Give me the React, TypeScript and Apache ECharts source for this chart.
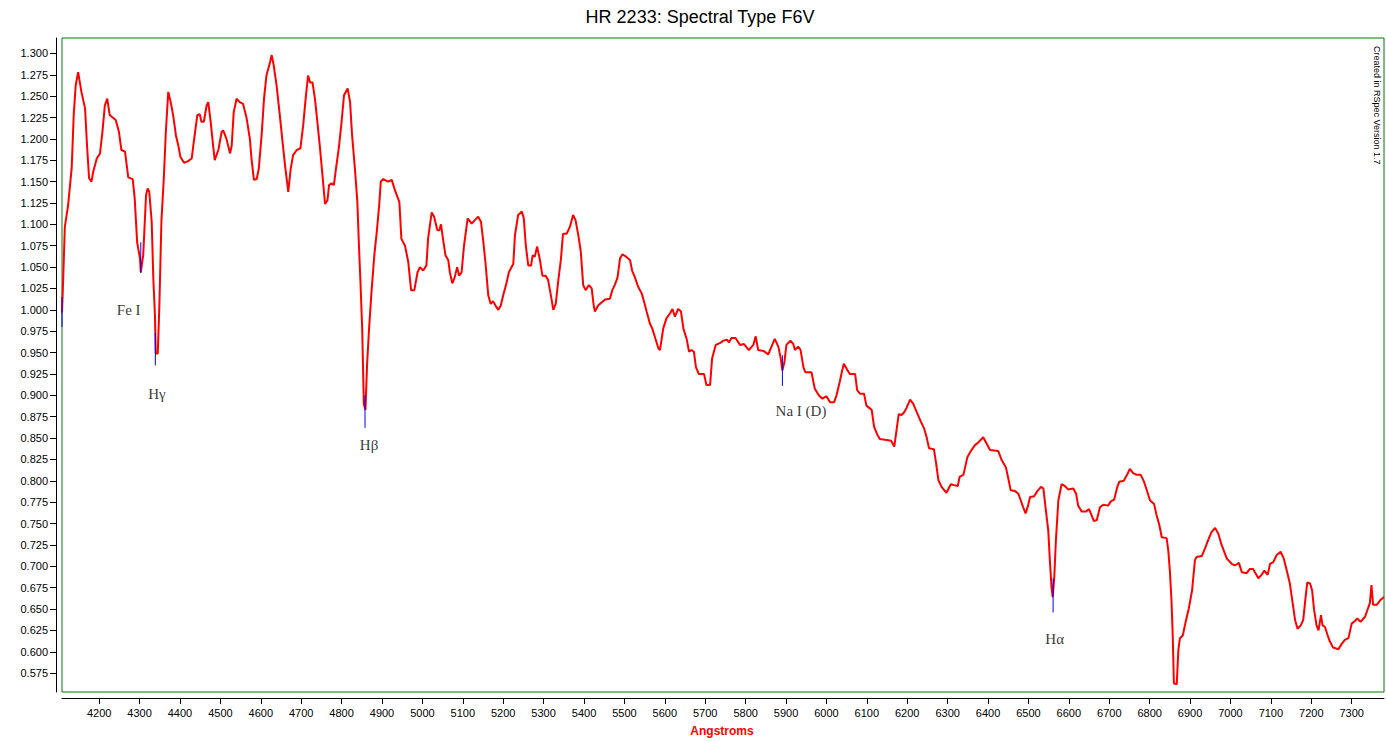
import React, { useEffect, useRef } from "react";
import * as echarts from "echarts";

// Spectrum: [wavelength (Angstrom), relative flux]
const spectrum: [number, number][] = [
  [4108,0.997],[4111,1.037],[4115,1.097],[4123,1.122],[4132,1.166],[4137,1.228],[4142,1.263],[4148,1.278],[4156,1.255],[4165,1.236],
  [4170,1.192],[4175,1.154],[4181,1.150],[4185,1.161],[4194,1.177],[4202,1.183],[4208,1.208],[4214,1.239],[4220,1.247],[4226,1.228],
  [4241,1.222],[4249,1.208],[4255,1.187],[4264,1.185],[4272,1.155],[4283,1.153],[4288,1.130],[4294,1.079],[4301,1.060],[4303,1.044],
  [4309,1.064],[4316,1.134],[4320,1.142],[4324,1.138],[4330,1.103],[4334,1.037],[4338,0.994],[4340,0.949],[4345,0.949],[4349,1.005],
  [4354,1.103],[4360,1.154],[4365,1.208],[4371,1.255],[4377,1.243],[4383,1.228],[4390,1.204],[4396,1.192],[4401,1.179],[4410,1.172],
  [4420,1.174],[4429,1.177],[4434,1.196],[4443,1.228],[4449,1.229],[4453,1.220],[4459,1.220],[4466,1.239],[4470,1.243],[4476,1.220],
  [4482,1.192],[4486,1.175],[4495,1.187],[4503,1.208],[4507,1.210],[4515,1.200],[4524,1.183],[4528,1.192],[4533,1.231],[4540,1.247],
  [4548,1.243],[4556,1.241],[4565,1.224],[4573,1.200],[4577,1.177],[4583,1.152],[4590,1.153],[4595,1.165],[4602,1.204],[4608,1.247],
  [4614,1.274],[4623,1.290],[4627,1.298],[4632,1.286],[4639,1.263],[4647,1.228],[4654,1.196],[4660,1.169],[4668,1.138],[4674,1.165],
  [4680,1.181],[4689,1.187],[4698,1.189],[4705,1.216],[4711,1.247],[4717,1.274],[4722,1.266],[4728,1.266],[4734,1.247],[4740,1.220],
  [4746,1.192],[4752,1.161],[4759,1.124],[4765,1.128],[4769,1.146],[4775,1.148],[4781,1.146],[4786,1.165],[4793,1.189],[4800,1.220],
  [4806,1.251],[4815,1.259],[4821,1.243],[4826,1.204],[4833,1.165],[4839,1.126],[4843,1.075],[4847,1.029],[4851,0.978],[4855,0.890],
  [4859,0.883],[4863,0.935],[4868,0.978],[4874,1.021],[4881,1.064],[4887,1.091],[4893,1.122],[4897,1.150],[4903,1.153],[4915,1.150],
  [4924,1.152],[4932,1.140],[4943,1.126],
  [4948,1.083],[4957,1.075],[4965,1.056],[4972,1.023],[4980,1.023],[4988,1.044],[4994,1.050],[5002,1.046],[5010,1.052],[5014,1.083],
  [5023,1.114],[5029,1.109],[5037,1.093],[5042,1.093],[5046,1.100],[5051,1.083],[5057,1.064],[5064,1.058],[5068,1.044],[5074,1.031],
  [5080,1.038],[5086,1.050],[5091,1.040],[5097,1.044],[5103,1.075],[5112,1.107],[5122,1.101],[5130,1.105],[5138,1.109],[5145,1.103],
  [5150,1.083],[5156,1.056],[5163,1.017],[5169,1.007],[5175,1.010],[5181,1.005],[5188,1.000],[5194,1.005],[5200,1.017],[5208,1.031],
  [5214,1.044],[5225,1.054],[5229,1.087],[5237,1.111],[5246,1.115],[5251,1.107],[5256,1.075],[5262,1.052],[5269,1.052],[5273,1.064],
  [5278,1.062],[5284,1.074],[5291,1.058],[5297,1.040],[5305,1.040],[5311,1.035],[5318,1.017],[5324,1.000],[5330,1.007],[5336,1.033],
  [5343,1.060],[5348,1.089],[5357,1.089],[5365,1.097],[5373,1.111],[5379,1.105],[5386,1.087],[5392,1.068],[5398,1.029],[5404,1.023],
  [5412,1.029],[5419,1.025],[5424,1.005],[5427,0.998],[5435,1.005],[5444,1.009],[5452,1.012],[5464,1.013],[5470,1.023],[5476,1.029],
  [5483,1.038],[5489,1.060],[5495,1.065],[5505,1.062],[5514,1.058],[5519,1.046],[5526,1.038],[5534,1.027],[5543,1.019],[5549,1.009],
  [5555,0.998],[5563,0.984],[5569,0.978],[5577,0.966],[5584,0.955],[5588,0.953],[5596,0.978],[5604,0.990],[5613,0.996],[5619,1.001],
  [5625,0.992],[5633,1.001],[5640,0.998],[5646,0.978],[5654,0.966],[5660,0.951],[5666,0.953],[5672,0.951],[5677,0.933],[5684,0.925],
  [5697,0.925],[5703,0.912],[5712,0.912],[5717,0.943],[5726,0.959],[5736,0.961],[5745,0.964],[5754,0.965],[5759,0.962],[5765,0.967],
  [5775,0.967],[5786,0.959],[5796,0.960],
  [5808,0.953],[5819,0.959],[5825,0.969],[5831,0.953],[5844,0.952],[5856,0.948],[5864,0.957],[5872,0.966],[5881,0.957],[5887,0.943],
  [5891,0.929],[5896,0.939],[5901,0.959],[5911,0.964],[5918,0.960],[5922,0.953],[5930,0.957],[5936,0.953],[5943,0.933],[5948,0.927],
  [5963,0.927],[5971,0.908],[5981,0.900],[5990,0.896],[6000,0.899],[6009,0.892],[6019,0.892],[6025,0.900],[6033,0.916],[6038,0.927],
  [6043,0.937],[6050,0.931],[6058,0.925],[6071,0.925],[6076,0.906],[6083,0.902],[6093,0.902],[6099,0.888],[6112,0.883],[6118,0.863],
  [6127,0.853],[6132,0.849],[6145,0.848],[6160,0.847],[6168,0.840],[6174,0.861],[6179,0.878],[6186,0.877],[6192,0.880],[6198,0.885],
  [6207,0.895],[6215,0.890],[6223,0.881],[6234,0.869],[6242,0.861],[6248,0.851],[6254,0.838],[6266,0.837],[6271,0.822],[6277,0.801],
  [6285,0.793],[6297,0.786],[6308,0.796],[6316,0.795],[6325,0.794],[6330,0.805],[6339,0.807],[6349,0.828],[6359,0.836],[6368,0.842],
  [6376,0.845],[6388,0.851],[6396,0.844],[6405,0.836],[6425,0.835],[6434,0.824],[6444,0.816],[6450,0.803],[6456,0.789],[6467,0.788],
  [6475,0.785],[6481,0.777],[6487,0.769],[6493,0.762],[6499,0.771],[6504,0.781],[6514,0.782],[6522,0.788],[6531,0.793],[6537,0.791],
  [6543,0.766],[6549,0.742],[6553,0.707],[6557,0.676],[6560,0.664],[6564,0.688],[6568,0.731],[6574,0.777],[6582,0.796],[6590,0.794],
  [6598,0.790],[6611,0.791],[6618,0.785],[6623,0.771],[6632,0.764],[6642,0.764],[6650,0.767],[6656,0.760],[6662,0.753],[6669,0.754],
  [6677,0.769],[6685,0.772],[6697,0.771],[6704,0.776],[6712,0.778],[6720,0.793],[6725,0.799],[6736,0.800],[6745,0.808],[6751,0.814],
  [6759,0.809],[6768,0.807],[6778,0.807],[6786,0.799],[6793,0.789],[6801,0.777],[6811,0.773],[6817,0.760],[6824,0.748],[6830,0.734],
  [6842,0.733],[6846,0.719],[6850,0.695],[6854,0.660],[6857,0.621],[6860,0.563],[6867,0.562],[6871,0.602],[6875,0.616],[6882,0.619],
  [6889,0.635],[6897,0.651],[6905,0.672],[6912,0.707],[6916,0.711],[6929,0.712],[6937,0.721],[6945,0.731],[6953,0.740],[6962,0.745],
  [6970,0.738],[6978,0.725],[6991,0.709],[7003,0.703],[7011,0.701],[7021,0.704],[7028,0.693],[7040,0.692],[7048,0.697],[7056,0.697],
  [7069,0.686],[7077,0.690],[7084,0.695],[7092,0.690],[7098,0.703],[7106,0.705],[7114,0.713],[7124,0.717],[7132,0.709],[7141,0.692],
  [7147,0.680],[7153,0.660],[7160,0.637],[7166,0.627],[7174,0.631],[7180,0.637],[7186,0.664],[7190,0.681],[7197,0.680],[7202,0.672],
  [7207,0.649],[7213,0.631],[7218,0.625],[7224,0.643],[7228,0.631],[7234,0.629],[7240,0.620],[7246,0.612],[7254,0.605],[7267,0.603],
  [7275,0.609],[7283,0.614],[7292,0.616],[7300,0.633],[7308,0.636],[7314,0.639],[7322,0.635],[7333,0.641],[7345,0.657],[7349,0.678],
  [7353,0.655],[7362,0.655],[7370,0.660],[7380,0.664],
];

// Blue line-identification markers
const markerWavelengths = [4108, 4303, 4339, 4858, 5891, 6561];
const markerTops = [1.015, 1.079, 0.973, 0.900, 0.947, 0.686];
const markerBottoms = [0.980, 1.043, 0.935, 0.862, 0.911, 0.646];

// Line labels
const labelNames = ["Fe I", "H\u03b3", "H\u03b2", "Na I (D)", "H\u03b1"];
const labelWavelengths = [4273, 4343, 4868, 5937, 6565];
const labelFluxes = [0.9995, 0.902, 0.842, 0.882, 0.615];

// Axis ticks
const xTicks = [4200, 4300, 4400, 4500, 4600, 4700, 4800, 4900, 5000, 5100, 5200, 5300, 5400, 5500, 5600, 5700, 5800, 5900, 6000, 6100, 6200, 6300, 6400, 6500, 6600, 6700, 6800, 6900, 7000, 7100, 7200, 7300];
const yTicks = [0.575, 0.6, 0.625, 0.65, 0.675, 0.7, 0.725, 0.75, 0.775, 0.8, 0.825, 0.85, 0.875, 0.9, 0.925, 0.95, 0.975, 1.0, 1.025, 1.05, 1.075, 1.1, 1.125, 1.15, 1.175, 1.2, 1.225, 1.25, 1.275, 1.3];

const titleText = "HR 2233: Spectral Type F6V";
const xAxisName = "Angstroms";
const creditText = "Created in RSpec Version 1.7";

export default function App() {
  const ref = useRef<HTMLDivElement>(null);
  useEffect(() => {
    document.body.style.margin = "0";
    const chart = echarts.init(ref.current!, null, { renderer: "svg" });
    const markerSeries = markerWavelengths.map((w, i) => ({
      type: "line",
      data: [[w, markerTops[i]], [w, markerBottoms[i]]],
      showSymbol: false,
      silent: true,
      z: 4,
      lineStyle: { color: "#0000ff", width: 1 },
    }));
    chart.setOption({
      animation: false,
      grid: {
        left: 62, right: 2, top: 38, bottom: 49,
        show: true, borderColor: "#007a00", borderWidth: 1, backgroundColor: "transparent",
      },
      xAxis: {
        type: "value", min: 4108, max: 7380, offset: 6,
        axisLine: { show: true, lineStyle: { color: "#000", width: 1 } },
        axisTick: { show: true, customValues: xTicks, length: 6, lineStyle: { color: "#000" } },
        axisLabel: {
          customValues: xTicks, color: "#000", fontSize: 11, fontFamily: "Liberation Sans, Arial, sans-serif", margin: 9,
          formatter: (v: number) => String(Math.round(v)),
        },
        splitLine: { show: false },
      },
      yAxis: {
        type: "value", min: 0.553, max: 1.318, offset: 6,
        axisLine: { show: true, lineStyle: { color: "#000", width: 1 } },
        axisTick: { show: true, customValues: yTicks, length: 6, lineStyle: { color: "#000" } },
        axisLabel: {
          customValues: yTicks, color: "#000", fontSize: 11, fontFamily: "Liberation Sans, Arial, sans-serif", margin: 8,
          formatter: (v: number) => v.toFixed(3),
        },
        splitLine: { show: false },
      },
      series: [
        {
          type: "line", data: spectrum, showSymbol: false, silent: true, z: 3,
          lineStyle: { color: "#ff0000", width: 2 },
        },
        ...markerSeries,
        {
          type: "scatter", symbolSize: 0, silent: true, z: 5,
          data: labelWavelengths.map((w, i) => ({ name: labelNames[i], value: [w, labelFluxes[i]] })),
          label: {
            show: true, position: "inside", formatter: "{b}", color: "#000",
            fontFamily: "Liberation Serif, Times New Roman, serif", fontSize: 15,
          },
        },
      ],
      graphic: [
        {
          type: "text", x: 700, y: 17,
          style: { text: titleText, fill: "#000", font: "18px 'Liberation Sans', Arial, sans-serif", textAlign: "center", textVerticalAlign: "middle", align: "center", verticalAlign: "middle" },
        },
        {
          type: "text", x: 722, y: 731,
          style: { text: xAxisName, fill: "#ff0000", font: "bold 12px 'Liberation Sans', Arial, sans-serif", textAlign: "center", textVerticalAlign: "middle", align: "center", verticalAlign: "middle" },
        },
        {
          type: "text", x: 1377, y: 46, rotation: -Math.PI / 2,
          style: { text: creditText, fill: "#000", font: "9px 'Liberation Sans', Arial, sans-serif", textAlign: "left", textVerticalAlign: "middle", align: "left", verticalAlign: "middle" },
        },
      ],
    });
    return () => chart.dispose();
  }, []);
  return <div ref={ref} style={{ position: "absolute", left: 0, top: 0, width: 1386, height: 741 }} />;
}
